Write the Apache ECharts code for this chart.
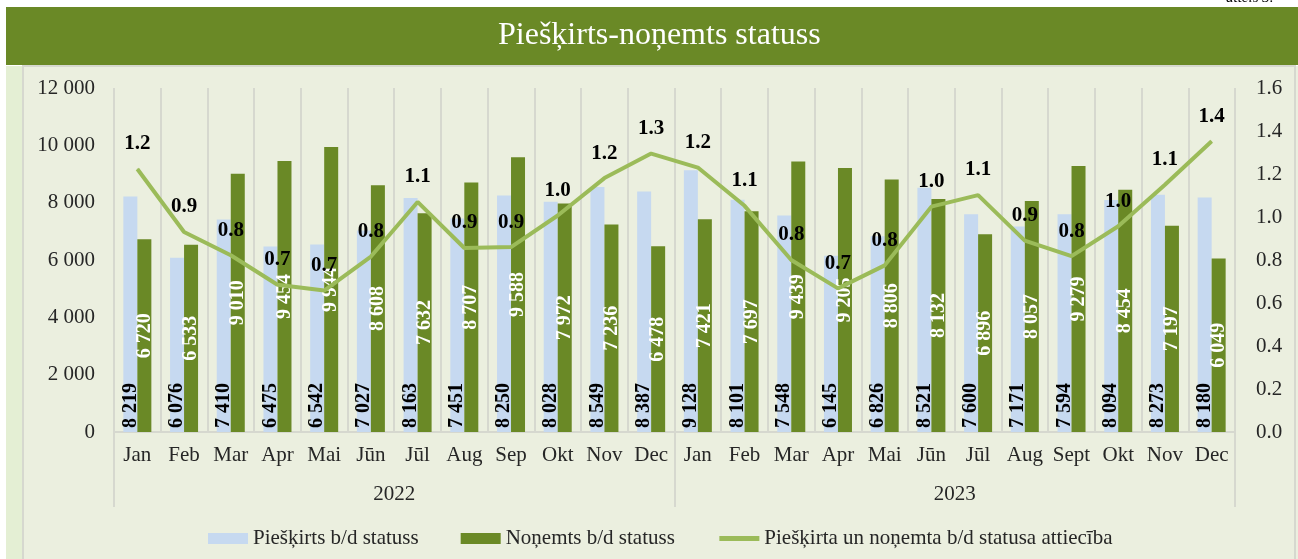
<!DOCTYPE html>
<html>
<head>
<meta charset="utf-8">
<script src="https://cdn.jsdelivr.net/npm/echarts@6/dist/echarts.min.js"></script>
<style>
  html, body { margin: 0; padding: 0; background: #ffffff; }
  #chart { width: 1298px; height: 559px; }
</style>
</head>
<body>
<div id="chart"></div>
<script>
const months = ['Jan', 'Feb', 'Mar', 'Apr', 'Mai', 'Jūn', 'Jūl', 'Aug', 'Sep', 'Okt', 'Nov', 'Dec',
  'Jan', 'Feb', 'Mar', 'Apr', 'Mai', 'Jūn', 'Jūl', 'Aug', 'Sept', 'Okt', 'Nov', 'Dec'];
const years = ['2022', '2023'];

const granted = [8219, 6076, 7410, 6475, 6542, 7027, 8163, 7451, 8250, 8028, 8549, 8387,
  9128, 8101, 7548, 6145, 6826, 8521, 7600, 7171, 7594, 8094, 8273, 8180];
const removed = [6720, 6533, 9010, 9454, 9944, 8608, 7632, 8707, 9588, 7972, 7236, 6478,
  7421, 7697, 9439, 9205, 8806, 8132, 6896, 8057, 9279, 8454, 7197, 6049];
const ratio = [1.223, 0.930, 0.822, 0.685, 0.658, 0.816, 1.070, 0.856, 0.860, 1.007, 1.181, 1.295,
  1.230, 1.052, 0.800, 0.668, 0.775, 1.048, 1.102, 0.890, 0.818, 0.957, 1.150, 1.352];

const seriesNames = ['Piešķirts b/d statuss', 'Noņemts b/d statuss', 'Piešķirta un noņemta b/d statusa attiecība'];

const serif = '"Liberation Serif", "DejaVu Serif", serif';
const fmtThousands = v => String(v).replace(/\B(?=(\d{3})+(?!\d))/g, ' ');

const chart = echarts.init(document.getElementById('chart'));

const option = {
  animation: false,
  textStyle: { fontFamily: serif },
  graphic: [
    { type: 'rect', shape: { x: 6, y: 66, width: 1292, height: 493 }, style: { fill: '#ebefdf' }, z: -10 },
    { type: 'rect', shape: { x: 6, y: 66, width: 17, height: 493 }, style: { fill: '#e4efd4' }, z: -9 },
    { type: 'rect', shape: { x: 23, y: 66, width: 1272, height: 500 }, style: { fill: 'none', stroke: '#d6d8cf', lineWidth: 2 }, z: -8 },
    { type: 'rect', shape: { x: 6, y: 7, width: 1292, height: 58 }, style: { fill: '#6a8926' }, z: -7 },
    { type: 'text', x: 1226, y: -9, style: { text: 'attēls 3.', fill: '#000', font: 'italic 15px ' + serif }, z: -6 }
  ],
  title: {
    text: 'Piešķirts-noņemts statuss',
    left: 493,
    top: 15,
    textStyle: { color: '#ffffff', fontFamily: serif, fontSize: 32, fontWeight: 'normal' }
  },
  legend: {
    left: 203,
    top: 523,
    itemWidth: 40,
    itemHeight: 11,
    itemGap: 42,
    textStyle: { fontFamily: serif, fontSize: 21, color: '#262626' },
    data: [
      { name: seriesNames[0], icon: 'rect' },
      { name: seriesNames[1], icon: 'rect' },
      { name: seriesNames[2], itemStyle: { opacity: 0 }, lineStyle: { width: 5, color: '#9bbb59' } }
    ]
  },
  grid: { left: 114, right: 63, top: 88, bottom: 127, containLabel: false },
  xAxis: [
    {
      type: 'category',
      data: months,
      axisLine: { lineStyle: { color: '#d6d8cf', width: 2 } },
      axisTick: { show: false },
      axisLabel: { color: '#262626', fontSize: 21, fontFamily: serif, margin: 13, interval: 0 },
      splitLine: { show: true, lineStyle: { color: '#d6d8cf', width: 2 } }
    },
    {
      type: 'category',
      data: years,
      position: 'bottom',
      axisLine: { show: false },
      axisTick: { show: true, length: 75, lineStyle: { color: '#d6d8cf', width: 2 } },
      axisLabel: { color: '#262626', fontSize: 21, fontFamily: serif, margin: 52 },
      splitLine: { show: false }
    }
  ],
  yAxis: [
    {
      type: 'value',
      min: 0, max: 12000, interval: 2000,
      axisLine: { show: false },
      axisTick: { show: false },
      splitLine: { show: false },
      axisLabel: { color: '#262626', fontSize: 21, fontFamily: serif, margin: 19, formatter: fmtThousands }
    },
    {
      type: 'value',
      min: 0, max: 1.6, interval: 0.2,
      axisLine: { show: false },
      axisTick: { show: false },
      splitLine: { show: false },
      axisLabel: { color: '#262626', fontSize: 21, fontFamily: serif, margin: 21, formatter: v => v.toFixed(1) }
    }
  ],
  series: [
    {
      name: seriesNames[0],
      type: 'bar',
      data: granted,
      barWidth: 14,
      barGap: '0%',
      itemStyle: { color: '#c6d9f0' },
      label: {
        show: true,
        position: 'insideBottom',
        rotate: 90,
        align: 'left',
        verticalAlign: 'middle',
        distance: 4,
        color: '#000',
        fontWeight: 'bold',
        fontSize: 20,
        fontFamily: serif,
        formatter: p => fmtThousands(p.value)
      }
    },
    {
      name: seriesNames[1],
      type: 'bar',
      data: removed,
      barWidth: 14,
      barGap: '0%',
      itemStyle: { color: '#6a8926' },
      label: {
        show: true,
        position: 'inside',
        rotate: 90,
        align: 'center',
        verticalAlign: 'middle',
        color: '#ffffff',
        fontWeight: 'bold',
        fontSize: 20,
        fontFamily: serif,
        formatter: p => fmtThousands(p.value)
      }
    },
    {
      name: seriesNames[2],
      type: 'line',
      yAxisIndex: 1,
      data: ratio,
      symbol: 'circle',
      symbolSize: 1,
      z: 5,
      lineStyle: { color: '#9bbb59', width: 4 },
      itemStyle: { color: '#9bbb59' },
      label: {
        show: true,
        position: 'top',
        distance: 14,
        color: '#000',
        fontWeight: 'bold',
        fontSize: 21,
        fontFamily: serif,
        formatter: p => p.value.toFixed(1)
      }
    }
  ]
};

chart.setOption(option);
</script>
</body>
</html>
